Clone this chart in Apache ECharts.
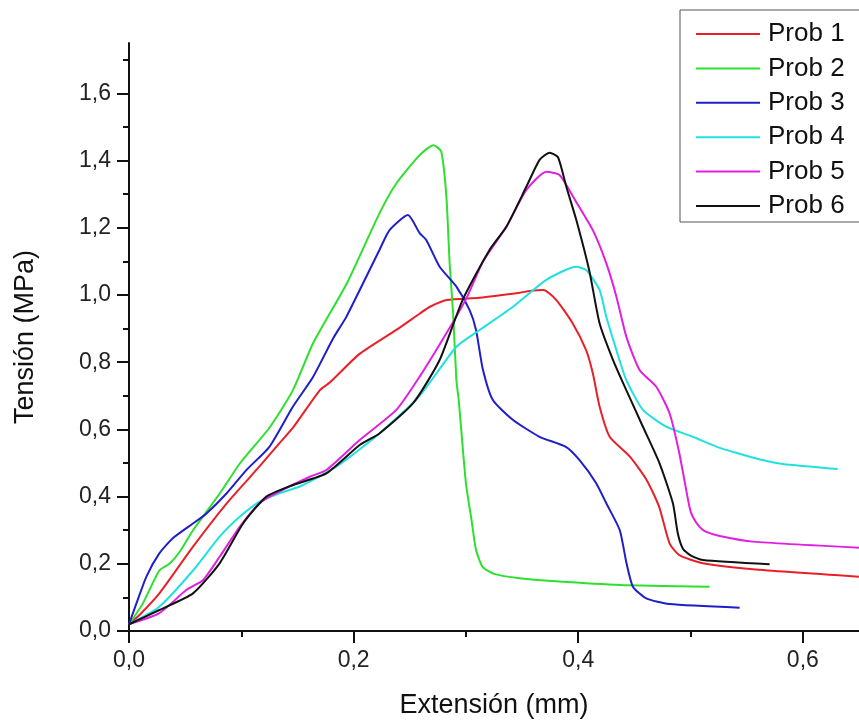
<!DOCTYPE html>
<html>
<head>
<meta charset="utf-8">
<script src="https://cdn.jsdelivr.net/npm/echarts@6/dist/echarts.min.js"></script>
<style>html,body{margin:0;padding:0;background:#fff;}#c{width:859px;height:724px;}</style>
</head>
<body>
<div id="c"></div>
<script>
var seriesNames = ['Prob 1','Prob 2','Prob 3','Prob 4','Prob 5','Prob 6'];
var xMajorTicks = [0, 0.2, 0.4, 0.6];
var xMinorTicks = [0.1, 0.3, 0.5];
var yMajorTicks = [0, 0.2, 0.4, 0.6, 0.8, 1.0, 1.2, 1.4, 1.6];
var yMinorTicks = [0.1, 0.3, 0.5, 0.7, 0.9, 1.1, 1.3, 1.5, 1.7];

var prob1 = [[0,0.02],[0.01,0.05],[0.027,0.112],[0.057,0.251],[0.087,0.38],[0.116,0.489],[0.134,0.559],[0.146,0.605],[0.170,0.717],[0.179,0.74],[0.205,0.824],[0.238,0.896],[0.259,0.945],[0.268,0.965],[0.283,0.985],[0.312,0.992],[0.348,1.007],[0.357,1.012],[0.369,1.015],[0.3805,0.985],[0.395,0.916],[0.407,0.836],[0.413,0.767],[0.419,0.668],[0.428,0.578],[0.446,0.519],[0.461,0.449],[0.472,0.37],[0.4813,0.261],[0.490,0.226],[0.511,0.2015],[0.5555,0.1836],[0.65,0.1616]];
var prob2 = [[0,0.02],[0.012,0.08],[0.027,0.18],[0.036,0.2],[0.045,0.235],[0.057,0.30],[0.081,0.41],[0.099,0.50],[0.125,0.605],[0.146,0.717],[0.164,0.857],[0.194,1.035],[0.223,1.243],[0.238,1.332],[0.259,1.417],[0.271,1.446],[0.278,1.427],[0.2826,1.293],[0.2855,1.094],[0.2886,0.945],[0.2915,0.747],[0.2935,0.69],[0.300,0.44],[0.305,0.33],[0.309,0.241],[0.315,0.19],[0.325,0.17],[0.348,0.157],[0.38,0.148],[0.437,0.137],[0.517,0.132]];
var prob3 = [[0,0.02],[0.0066,0.082],[0.0155,0.162],[0.027,0.231],[0.039,0.276],[0.057,0.32],[0.069,0.35],[0.087,0.41],[0.1045,0.479],[0.125,0.548],[0.146,0.668],[0.164,0.757],[0.1816,0.87],[0.1935,0.935],[0.223,1.134],[0.232,1.193],[0.2484,1.238],[0.2588,1.184],[0.2647,1.164],[0.2766,1.084],[0.2915,1.025],[0.3033,0.955],[0.309,0.896],[0.315,0.78],[0.324,0.6875],[0.342,0.628],[0.3656,0.578],[0.389,0.548],[0.401,0.509],[0.416,0.44],[0.425,0.38],[0.437,0.30],[0.443,0.2015],[0.4487,0.132],[0.4606,0.097],[0.481,0.080],[0.5437,0.0694]];
var prob4 = [[0,0.02],[0.027,0.072],[0.057,0.18],[0.0807,0.281],[0.0986,0.34],[0.1164,0.385],[0.134,0.41],[0.152,0.43],[0.1846,0.489],[0.223,0.588],[0.2588,0.70],[0.2915,0.846],[0.3122,0.896],[0.342,0.965],[0.3716,1.045],[0.3983,1.084],[0.4072,1.074],[0.419,1.015],[0.425,0.935],[0.434,0.836],[0.4428,0.747],[0.4576,0.658],[0.4784,0.608],[0.502,0.578],[0.526,0.545],[0.5377,0.533],[0.56,0.512],[0.5822,0.497],[0.631,0.482]];
var prob5 = [[0,0.02],[0.027,0.053],[0.051,0.122],[0.066,0.152],[0.0807,0.221],[0.0986,0.31],[0.1164,0.38],[0.131,0.41],[0.161,0.459],[0.1757,0.479],[0.2054,0.5685],[0.238,0.658],[0.2588,0.757],[0.2826,0.886],[0.3004,0.99],[0.3152,1.10],[0.336,1.203],[0.3538,1.3125],[0.3716,1.367],[0.3834,1.357],[0.3953,1.293],[0.413,1.193],[0.425,1.094],[0.434,0.995],[0.4428,0.876],[0.4546,0.777],[0.4695,0.727],[0.4813,0.648],[0.490,0.529],[0.499,0.37],[0.502,0.34],[0.508,0.31],[0.514,0.295],[0.526,0.283],[0.5555,0.266],[0.65,0.248]];
var prob6 = [[0,0.02],[0.027,0.0625],[0.057,0.112],[0.0807,0.2015],[0.1016,0.32],[0.1223,0.40],[0.146,0.4345],[0.1757,0.469],[0.2054,0.5536],[0.223,0.588],[0.253,0.678],[0.2766,0.8065],[0.297,0.985],[0.321,1.134],[0.336,1.203],[0.3538,1.322],[0.3656,1.402],[0.3745,1.4235],[0.382,1.41],[0.3894,1.322],[0.3983,1.223],[0.410,1.07],[0.419,0.916],[0.431,0.8065],[0.4428,0.717],[0.4576,0.608],[0.4724,0.499],[0.4843,0.38],[0.4887,0.29],[0.4932,0.245],[0.500,0.225],[0.511,0.211],[0.5704,0.1985]];

var seriesData = [prob1, prob2, prob3, prob4, prob5, prob6];
var colors = ['#e8202a', '#2ee02e', '#1f1fc8', '#22e0e0', '#e020e0', '#111111'];

var FONT = 'Arial, "Liberation Sans", sans-serif';
function fmt(v) { return v.toFixed(1).replace('.', ','); }

var chart = echarts.init(document.getElementById('c'), null, {renderer: 'canvas'});
var axisLineStyle = {color: '#111', width: 2};

var option = {
  animation: false,
  backgroundColor: '#fff',
  color: colors,
  grid: {left: 129, top: 43, right: 0, bottom: 93, outerBoundsMode: 'none', containLabel: false},
  legend: {
    data: seriesNames.map(function (n) { return {name: n, icon: 'rect'}; }),
    orient: 'vertical',
    left: 680,
    top: 10,
    itemWidth: 64,
    itemHeight: 2,
    itemGap: 8.4,
    padding: [11, 40, 3, 16],
    borderColor: '#555',
    borderWidth: 1,
    backgroundColor: '#fff',
    textStyle: {fontSize: 26, color: '#111', lineHeight: 25, fontFamily: FONT, padding: [0, 0, 0, 3]}
  },
  xAxis: [{
    type: 'value', min: 0, max: 0.65, position: 'bottom',
    name: 'Extensión (mm)', nameLocation: 'middle', nameGap: 61,
    nameTextStyle: {fontSize: 27, color: '#111', fontFamily: FONT},
    axisLine: {show: true, onZero: false, lineStyle: axisLineStyle},
    axisTick: {show: true, customValues: xMajorTicks, length: 12, lineStyle: axisLineStyle},
    axisLabel: {customValues: xMajorTicks, formatter: fmt, fontSize: 23, color: '#222', margin: 18, fontFamily: FONT},
    splitLine: {show: false}
  }, {
    type: 'value', min: 0, max: 0.65, position: 'bottom',
    axisLine: {show: false, onZero: false},
    axisTick: {show: true, customValues: xMinorTicks, length: 6, lineStyle: axisLineStyle},
    axisLabel: {show: false},
    splitLine: {show: false}
  }],
  yAxis: [{
    type: 'value', min: 0, max: 1.75, position: 'left',
    name: 'Tensión (MPa)', nameLocation: 'middle', nameGap: 90,
    nameTextStyle: {fontSize: 27, color: '#111', fontFamily: FONT},
    axisLine: {show: true, onZero: false, lineStyle: axisLineStyle},
    axisTick: {show: true, customValues: yMajorTicks, length: 12, lineStyle: axisLineStyle},
    axisLabel: {customValues: yMajorTicks, formatter: fmt, fontSize: 23, color: '#222', margin: 18, fontFamily: FONT},
    splitLine: {show: false}
  }, {
    type: 'value', min: 0, max: 1.75, position: 'left',
    axisLine: {show: false, onZero: false},
    axisTick: {show: true, customValues: yMinorTicks, length: 6, lineStyle: axisLineStyle},
    axisLabel: {show: false},
    splitLine: {show: false}
  }],
  series: seriesNames.map(function (n, i) {
    return {
      name: n, type: 'line', data: seriesData[i],
      xAxisIndex: 0, yAxisIndex: 0,
      symbol: 'none', showSymbol: false,
      smooth: 0.2,
      lineStyle: {width: 2, color: colors[i]},
      itemStyle: {color: colors[i]},
      clip: true
    };
  })
};
chart.setOption(option);
</script>
</body>
</html>
